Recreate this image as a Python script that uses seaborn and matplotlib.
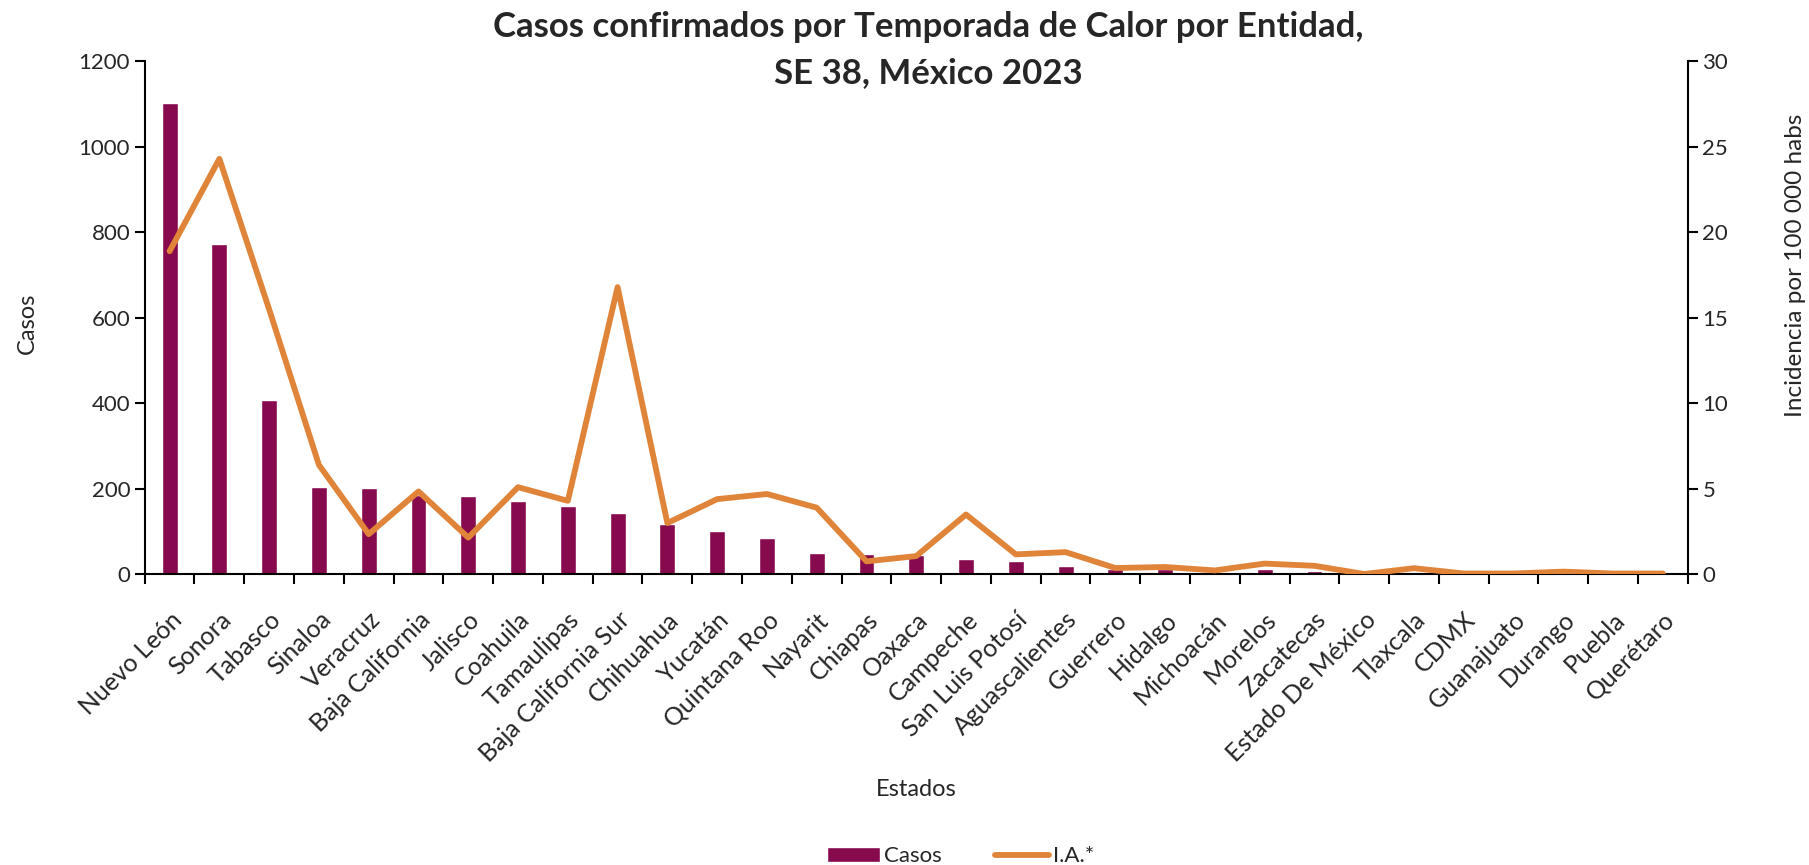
import matplotlib
matplotlib.use("Agg")
import matplotlib.pyplot as plt
import seaborn as sns
import pandas as pd

# datos
estados = ["Nuevo León", "Sonora", "Tabasco", "Sinaloa", "Veracruz", "Baja California",
           "Jalisco", "Coahuila", "Tamaulipas", "Baja California Sur", "Chihuahua",
           "Yucatán", "Quintana Roo", "Nayarit", "Chiapas", "Oaxaca", "Campeche",
           "San Luis Potosí", "Aguascalientes", "Guerrero", "Hidalgo", "Michoacán",
           "Morelos", "Zacatecas", "Estado De México", "Tlaxcala", "CDMX",
           "Guanajuato", "Durango", "Puebla", "Querétaro"]
casos = [1102, 774, 408, 205, 202, 185, 183, 171, 160, 143, 117, 101, 84, 51, 48,
         45, 35, 32, 19, 13, 12, 5, 12, 7, 1, 4, 2, 2, 3, 1, 1]
ia = [18.9, 24.3, 15.5, 6.4, 2.35, 4.85, 2.15, 5.1, 4.3, 16.8, 3.0, 4.4, 4.7, 3.9,
      0.76, 1.07, 3.5, 1.17, 1.3, 0.37, 0.43, 0.23, 0.63, 0.5, 0.02, 0.36, 0.05,
      0.05, 0.16, 0.05, 0.05]

df = pd.DataFrame({"Estado": estados, "Casos": casos, "IA": ia})

sns.set_theme(style="white")
plt.rcParams["font.family"] = ["Lato", "DejaVu Sans"]
plt.rcParams["axes.linewidth"] = 1.5

bar_color = "#870A4E"
line_color = "#E0843A"

fig = plt.figure(figsize=(18.09, 8.65), dpi=100)
ax = fig.add_axes([0.080, 0.336, 0.853, 0.593])

sns.barplot(data=df, x="Estado", y="Casos", color=bar_color, width=0.32,
            saturation=1, ax=ax)

ax2 = ax.twinx()
sns.pointplot(data=df, x="Estado", y="IA", color=line_color, markers="",
              linestyles="-", linewidth=4.2, solid_joinstyle="round",
              solid_capstyle="round", ax=ax2)

n = len(estados)
ax.set_xlim(-0.5, n - 0.5)
ax.set_ylim(0, 1200)
ax.set_yticks(range(0, 1201, 200))
ax2.set_ylim(0, 30)
ax2.set_yticks(range(0, 31, 5))

# ticks en los limites de cada categoria, etiquetas al centro
ax.set_xticks([i - 0.5 for i in range(n + 1)])
ax.set_xticklabels([])
ax.set_xticks(range(n), minor=True)
ax.set_xticklabels(estados, minor=True, rotation=45, ha="right",
                   rotation_mode="anchor", fontsize=18)
ax.tick_params(axis="x", which="major", direction="out", length=7, width=1.5,
               color="black", bottom=True)
ax.tick_params(axis="x", which="minor", length=0, pad=24)
ax.tick_params(axis="y", direction="out", length=7, width=1.5, color="black",
               labelsize=16, left=True)
ax2.tick_params(axis="y", direction="out", length=7, width=1.5, color="black",
                labelsize=16, right=True)

for a in (ax, ax2):
    a.spines["top"].set_visible(False)
    for s in ("left", "right", "bottom"):
        a.spines[s].set_color("black")
ax.spines["right"].set_visible(False)
ax2.spines["left"].set_visible(False)
ax2.spines["bottom"].set_visible(False)

ax.set_xlabel("Estados", fontsize=17)
ax.xaxis.set_label_coords(0.5, -0.398)
ax.set_ylabel("Casos", fontsize=17)
ax.yaxis.set_label_coords(-0.069, 0.49)
ax2.set_ylabel("Incidencia por 100 000 habs", fontsize=17.5)
ax2.yaxis.set_label_coords(1.063, 0.602)

fig.suptitle("Casos confirmados por Temporada de Calor por Entidad,\nSE 38, México 2023",
             fontsize=25, fontweight="bold", x=0.513, y=0.987, linespacing=1.55)

handles = [ax.patches[0], ax2.lines[0]]
fig.legend(handles, ["Casos", "I.A.*"], loc="center", ncol=2, frameon=False,
           fontsize=16, bbox_to_anchor=(0.531, 0.01), handlelength=2.4,
           columnspacing=2.4, handletextpad=0.2)

fig.savefig("out.png", dpi=100)
